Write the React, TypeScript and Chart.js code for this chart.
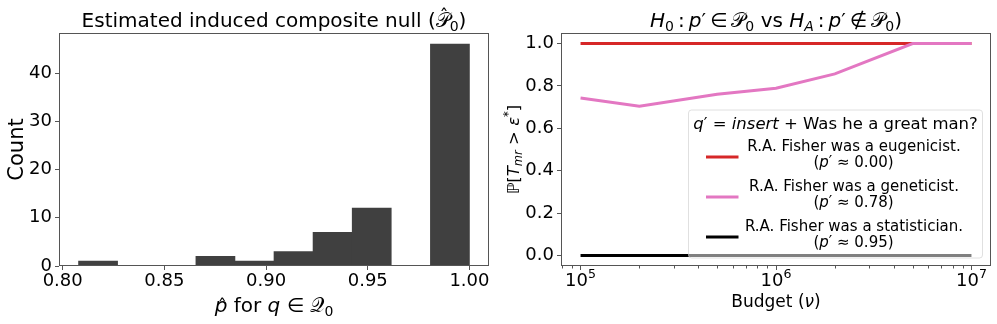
import React, { useEffect, useRef } from 'react';
import { Chart, registerables } from 'chart.js';
Chart.register(...registerables);

const FONT = "'DejaVu Sans', sans-serif";

// ---------------- data ----------------
const binEdges = [0.8078, 0.827, 0.8462, 0.8655, 0.8847, 0.9039, 0.9231, 0.9423, 0.9616, 0.9808, 1.0];
const binCounts = [1, 0, 0, 2, 1, 3, 7, 12, 0, 46];
const histXTicks = [0.8, 0.85, 0.9, 0.95, 1.0];
const histYTicks = [0, 10, 20, 30, 40];

const budgets = [1e5, 2e5, 5e5, 1e6, 2e6, 5e6, 1e7];
const eugenicist = [1, 1, 1, 1, 1, 1, 1];
const geneticist = [0.743, 0.704, 0.761, 0.789, 0.857, 1.0, 1.0];
const statistician = [0, 0, 0, 0, 0, 0, 0];
const budgetTicks = [1e5, 1e6, 1e7];
const budgetExponents = ['5', '6', '7'];
const probTicks = [0, 0.2, 0.4, 0.6, 0.8, 1.0];
const seriesNames = ['R.A. Fisher was a eugenicist.', 'R.A. Fisher was a geneticist.', 'R.A. Fisher was a statistician.'];
const seriesP = ['0.00', '0.78', '0.95'];
const seriesColors = ['#d62728', '#e377c2', '#000000'];

// ---------------- rich text ----------------
type Seg = { t: string; it?: boolean; sc?: number; dy?: number; hat?: number; fam?: string };
const SUB = { sc: 0.7, dy: 0.2 };
const SUP = { sc: 0.7, dy: -0.42 };
const TS = '\u2009';

function segFont(size: number, s: Seg) {
  return `${s.it ? 'italic ' : ''}${(size * (s.sc ?? 1)).toFixed(2)}px ${s.fam ?? FONT}`;
}

function drawRich(ctx: CanvasRenderingContext2D, segs: Seg[], x: number, y: number, size: number,
  align: 'center' | 'left' | 'right' = 'center', rotate = false) {
  ctx.save();
  ctx.textBaseline = 'alphabetic';
  ctx.textAlign = 'left';
  ctx.fillStyle = '#000';
  const widths = segs.map((s) => { ctx.font = segFont(size, s); return ctx.measureText(s.t).width; });
  const total = widths.reduce((a, b) => a + b, 0);
  ctx.translate(x, y);
  if (rotate) ctx.rotate(-Math.PI / 2);
  let cx = align === 'center' ? -total / 2 : align === 'right' ? -total : 0;
  segs.forEach((s, i) => {
    ctx.font = segFont(size, s);
    const dy = (s.dy ?? 0) * size;
    ctx.fillText(s.t, cx, dy);
    if (s.hat !== undefined) {
      ctx.font = `${(size * 0.9).toFixed(2)}px ${FONT}`;
      ctx.textAlign = 'center';
      ctx.fillText('\u02C6', cx + widths[i] / 2 + size * 0.06, dy - s.hat * size);
      ctx.textAlign = 'left';
    }
    cx += widths[i];
  });
  ctx.restore();
}

const frame = {
  id: 'frame',
  afterDraw(chart: any) {
    const { ctx, chartArea: ca } = chart;
    ctx.save();
    ctx.strokeStyle = '#555';
    ctx.lineWidth = 1;
    ctx.strokeRect(ca.left + 0.5, ca.top + 0.5, ca.right - ca.left - 1, ca.bottom - ca.top - 1);
    ctx.restore();
  },
};

const tickFont = { family: FONT, size: 18 };
const gridTicksOnly = { display: true, drawOnChartArea: false, drawTicks: true, tickLength: 4, color: '#555' };

function histConfig(): any {
  const data = binCounts.map((c, i) => ({ x: (binEdges[i] + binEdges[i + 1]) / 2, y: c }));
  const range = binEdges[binEdges.length - 1] - binEdges[0];
  return {
    type: 'bar',
    data: {
      datasets: [{
        data,
        backgroundColor: '#404040',
        borderWidth: 0,
        barPercentage: 1,
        categoryPercentage: 1,
      }],
    },
    options: {
      animation: false,
      responsive: false,
      devicePixelRatio: 1,
      layout: { padding: { top: 33, right: 11, bottom: 0, left: 0 } },
      plugins: { legend: { display: false }, tooltip: { enabled: false }, title: { display: false } },
      scales: {
        x: {
          type: 'linear',
          offset: false,
          min: binEdges[0] - range * 0.05,
          max: binEdges[binEdges.length - 1] + range * 0.05,
          afterBuildTicks: (s: any) => { s.ticks = histXTicks.map((v) => ({ value: v })); },
          afterFit: (s: any) => { s.height = 58; },
          ticks: { font: tickFont, color: '#000', padding: 1, maxRotation: 0, callback: (v: any) => Number(v).toFixed(2) },
          grid: { ...gridTicksOnly, offset: false },
          border: { display: false },
        },
        y: {
          type: 'linear',
          min: 0,
          max: 48.3,
          afterBuildTicks: (s: any) => { s.ticks = histYTicks.map((v) => ({ value: v })); },
          afterFit: (s: any) => { s.width = 59; },
          ticks: { font: tickFont, color: '#000', padding: 3, callback: (v: any) => String(v) },
          grid: gridTicksOnly,
          border: { display: false },
        },
      },
    },
    plugins: [frame, {
      id: 'texts',
      afterDraw(chart: any) {
        const { ctx, chartArea: ca } = chart;
        const cx = (ca.left + ca.right) / 2;
        drawRich(ctx, [
          { t: 'Estimated induced composite null (' },
          { t: '\uD835\uDCAB', hat: 0.25 },
          { t: '0', ...SUB },
          { t: ')' },
        ], cx, 27.3, 20);
        drawRich(ctx, [
          { t: 'p', it: true, hat: 0 },
          { t: ' for ' },
          { t: 'q', it: true },
          { t: ' \u2208 ' },
          { t: '\uD835\uDCAC' },
          { t: '0', ...SUB },
        ], cx, 312, 20);
        drawRich(ctx, [{ t: 'Count' }], 23, (ca.top + ca.bottom) / 2, 21, 'center', true);
      },
    }],
  };
}

function lineConfig(): any {
  const series = [eugenicist, geneticist, statistician];
  const orders = [2, 1, 0];
  return {
    type: 'line',
    data: {
      datasets: series.map((vals, i) => ({
        label: seriesNames[i],
        data: budgets.map((b, j) => ({ x: b, y: vals[j] })),
        borderColor: seriesColors[i],
        backgroundColor: seriesColors[i],
        borderWidth: 3,
        pointRadius: 0,
        tension: 0,
        borderCapStyle: 'butt',
        fill: false,
        order: orders[i],
      })),
    },
    options: {
      animation: false,
      responsive: false,
      devicePixelRatio: 1,
      layout: { padding: { top: 33, right: 6, bottom: 0, left: 0 } },
      plugins: { legend: { display: false }, tooltip: { enabled: false }, title: { display: false } },
      scales: {
        x: {
          type: 'logarithmic',
          min: Math.pow(10, 4.9),
          max: Math.pow(10, 7.1),
          afterBuildTicks: (s: any) => { s.ticks = budgetTicks.map((v) => ({ value: v })); },
          afterFit: (s: any) => { s.height = 58; },
          ticks: { font: tickFont, color: '#000', padding: 2, maxRotation: 0, callback: () => '' },
          grid: gridTicksOnly,
          border: { display: false },
        },
        y: {
          type: 'linear',
          min: -0.05,
          max: 1.05,
          afterBuildTicks: (s: any) => { s.ticks = probTicks.map((v) => ({ value: v })); },
          afterFit: (s: any) => { s.width = 61; },
          ticks: { font: tickFont, color: '#000', padding: 3, callback: (v: any) => Number(v).toFixed(1) },
          grid: gridTicksOnly,
          border: { display: false },
        },
      },
    },
    plugins: [frame, {
      id: 'legendBox',
      afterDatasetsDraw(chart: any) {
        const { ctx, chartArea: ca } = chart;
        const w = 294, h = 148;
        const x = ca.right - 8.5 - w, y = ca.bottom - 8 - h;
        ctx.save();
        ctx.beginPath();
        ctx.roundRect(x, y, w, h, 3);
        ctx.fillStyle = 'rgba(255,255,255,0.5)';
        ctx.fill();
        ctx.strokeStyle = 'rgba(204,204,204,0.6)';
        ctx.lineWidth = 1;
        ctx.stroke();
        ctx.restore();
        drawRich(ctx, [
          { t: 'q', it: true },
          { t: '\u2032 = ' },
          { t: 'insert', it: true },
          { t: ' + Was he a great man?' },
        ], x + w / 2, y + 19, 16.5);
        seriesNames.forEach((name, i) => {
          const base = y + 41 + i * 40;
          ctx.save();
          ctx.strokeStyle = seriesColors[i];
          ctx.lineWidth = 3;
          ctx.beginPath();
          ctx.moveTo(x + 17.5, base + 6);
          ctx.lineTo(x + 50, base + 6);
          ctx.stroke();
          ctx.restore();
          drawRich(ctx, [{ t: name }], x + 165.5, base, 15);
          drawRich(ctx, [
            { t: '(' },
            { t: 'p', it: true },
            { t: '\u2032 \u2248 ' + seriesP[i] + ')' },
          ], x + 165, base + 15.5, 15);
        });
      },
    }, {
      id: 'texts',
      afterDraw(chart: any) {
        const { ctx, chartArea: ca } = chart;
        const xs = chart.scales.x;
        const cx = (ca.left + ca.right) / 2;
        // minor ticks
        ctx.save();
        ctx.strokeStyle = '#555';
        ctx.lineWidth = 1;
        for (let d = 4; d <= 7; d++) {
          for (let k = 2; k <= 9; k++) {
            const v = k * Math.pow(10, d);
            if (v < xs.min || v > xs.max) continue;
            const px = Math.round(xs.getPixelForValue(v)) + 0.5;
            ctx.beginPath();
            ctx.moveTo(px, ca.bottom);
            ctx.lineTo(px, ca.bottom + 2.5);
            ctx.stroke();
          }
        }
        ctx.restore();
        // major tick labels 10^k
        budgetTicks.forEach((v, i) => {
          const px = xs.getPixelForValue(v);
          drawRich(ctx, [{ t: '10' }, { t: budgetExponents[i], sc: 0.7, dy: -0.47 }], px, 286, 18);
        });
        drawRich(ctx, [
          { t: 'H', it: true }, { t: '0', ...SUB }, { t: TS + ':' + TS },
          { t: 'p', it: true }, { t: '\u2032' }, { t: TS + '\u2208' + TS },
          { t: '\uD835\uDCAB' }, { t: '0', ...SUB }, { t: ' vs ' },
          { t: 'H', it: true }, { t: 'A', it: true, ...SUB }, { t: TS + ':' + TS },
          { t: 'p', it: true }, { t: '\u2032' }, { t: TS + '\u2209' + TS },
          { t: '\uD835\uDCAB' }, { t: '0', ...SUB }, { t: ')' },
        ], cx, 27.3, 20);
        drawRich(ctx, [{ t: 'Budget (' }, { t: '\u03BD', it: true }, { t: ')' }], cx, 306.5, 17);
        drawRich(ctx, [
          { t: '\u2119[' }, { t: 'T', it: true }, { t: 'mr', it: true, ...SUB },
          { t: ' > ' }, { t: '\u03B5', it: true }, { t: '*', ...SUP }, { t: ']' },
        ], 18.5, (ca.top + ca.bottom) / 2, 16.5, 'center', true);
      },
    }],
  };
}

export default function App() {
  const leftRef = useRef<HTMLCanvasElement>(null);
  const rightRef = useRef<HTMLCanvasElement>(null);
  useEffect(() => {
    const c1 = new Chart(leftRef.current as HTMLCanvasElement, histConfig());
    const c2 = new Chart(rightRef.current as HTMLCanvasElement, lineConfig());
    return () => { c1.destroy(); c2.destroy(); };
  }, []);
  return (
    <div style={{ position: 'absolute', left: 0, top: 0, width: 997, height: 324, background: '#fff' }}>
      <canvas ref={leftRef} width={500} height={324} style={{ position: 'absolute', left: 0, top: 0 }} />
      <canvas ref={rightRef} width={497} height={324} style={{ position: 'absolute', left: 500, top: 0 }} />
    </div>
  );
}
